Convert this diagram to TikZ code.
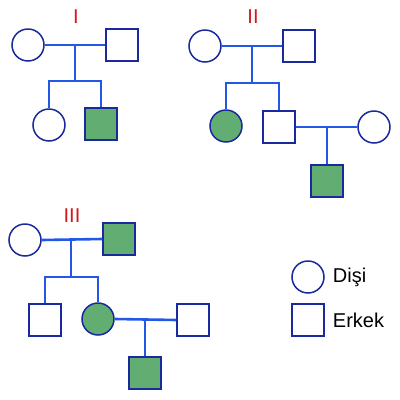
\documentclass[tikz,border=0pt]{standalone}
\usepackage{fontspec}
\setmainfont{Liberation Sans}
\usetikzlibrary{positioning,calc}
\definecolor{outline}{HTML}{1A2A9C}
\definecolor{linkblue}{HTML}{2457E6}
\definecolor{sick}{HTML}{62AE72}
\definecolor{numred}{HTML}{D21A1A}
\tikzset{
  female/.style={circle, draw=outline, line width=1.5pt, fill=white, minimum size=32pt, inner sep=0pt},
  male/.style={rectangle, draw=outline, line width=1.5pt, fill=white, minimum size=32pt, inner sep=0pt},
  femaleill/.style={female, fill=sick},
  maleill/.style={male, fill=sick},
  link/.style={draw=linkblue, line width=2.6pt},
  numlabel/.style={text=numred, font=\fontsize{20}{20}\selectfont},
  legendtext/.style={anchor=west, font=\fontsize{20}{20}\selectfont, inner sep=0pt}
}

\begin{document}
\begin{tikzpicture}[x=1pt, y=-1pt]
  \useasboundingbox (0,0) rectangle (400,400);

  % I
  \node[numlabel] (lab1) at (76,17) {I};
  \node[female] (m1) at (28,45) {};
  \node[male] (f1) at (122,45) {};
  \node[female] (c11) at (49,125) {};
  \node[maleill] (c12) at (101,124) {};
  \coordinate (u1) at (75,45);
  \coordinate (j1) at (75,81);
  \draw[link] (m1.east) -- (f1.west);
  \draw[link] (u1) -- (j1);
  \draw[link] (c11.north) |- (j1) -| (c12.north);

  % II
  \node[numlabel] (lab2) at (253,17) {II};
  \node[female] (m2) at (205,46) {};
  \node[male] (f2) at (299,46) {};
  \node[femaleill] (c21) at (226,126) {};
  \node[male] (c22) at (279,127) {};
  \node[female] (w2) at (374,127) {};
  \node[maleill] (g2) at (327,181) {};
  \coordinate (u2) at (252,46);
  \coordinate (j2) at (252,83);
  \coordinate (u22) at (327,127);
  \draw[link] (m2.east) -- (f2.west);
  \draw[link] (u2) -- (j2);
  \draw[link] (c21.north) |- (j2) -| (c22.north);
  \draw[link] (c22.east) -- (w2.west);
  \draw[link] (u22) -- (g2.north);

  % III
  \node[numlabel] (lab3) at (72,216) {III};
  \node[female] (m3) at (25,240) {};
  \node[maleill] (f3) at (119,239) {};
  \node[male] (c31) at (45,320) {};
  \node[femaleill] (c32) at (98,319) {};
  \node[male] (h3) at (193,320) {};
  \node[maleill] (g3) at (145,373) {};
  \coordinate (u3) at (71,239);
  \coordinate (j3) at (71,277);
  \coordinate (u32) at (145,319);
  \draw[link] (m3.east) -- (f3.west);
  \draw[link] (u3) -- (j3);
  \draw[link] (c31.north) |- (j3) -| (c32.north);
  \draw[link] (c32.east) -- (h3.west);
  \draw[link] (u32) -- (g3.north);

  % legend
  \node[female] (keyf) at (308,277) {};
  \node[male] (keym) at (308,320) {};
  \node[legendtext, right=8pt of keyf] (keyftext) {Dişi};
  \node[legendtext, right=8pt of keym] (keymtext) {Erkek};
\end{tikzpicture}
\end{document}
